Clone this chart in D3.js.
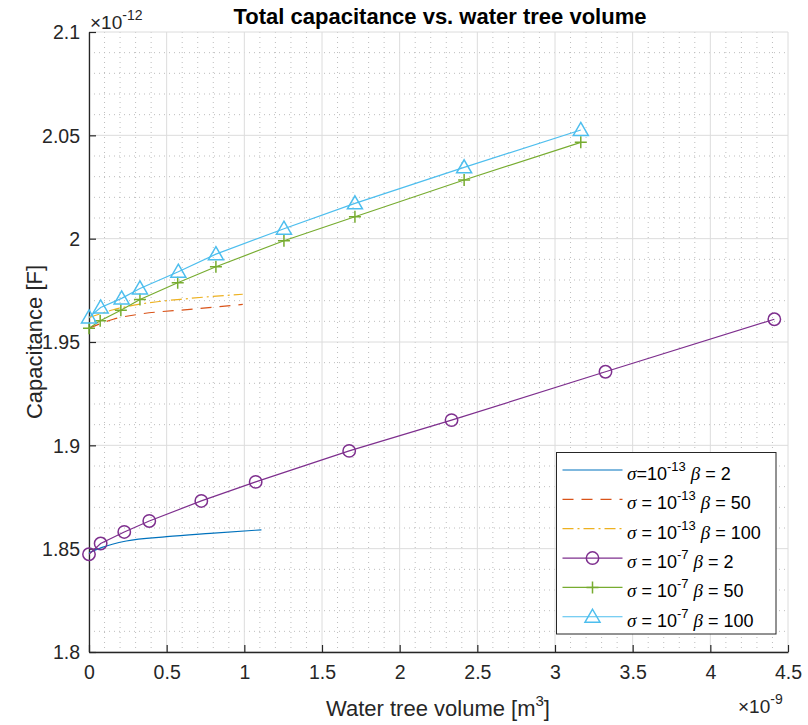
<!DOCTYPE html>
<html><head><meta charset="utf-8">
<script src="https://cdn.jsdelivr.net/npm/d3@7"></script>
<style>
body{margin:0;background:#fff;}
svg{font-family:"Liberation Sans",Arial,Helvetica,sans-serif;}
</style></head>
<body><svg id="chart" width="808" height="725"></svg>
<script>
// ---- data (x in 1e-9 m^3, y in 1e-12 F) ----
const xTicks = [0,0.5,1,1.5,2,2.5,3,3.5,4,4.5];
const yTicks = [1.8,1.85,1.9,1.95,2,2.05,2.1];
const xTickLabels = ["0","0.5","1","1.5","2","2.5","3","3.5","4","4.5"];
const yTickLabels = ["1.8","1.85","1.9","1.95","2","2.05","2.1"];

const s1x = [0,0.08,0.24,0.5,0.78,1.11];
const s1y = [1.848,1.8505,1.8537,1.8558,1.8574,1.8591];
const s2x = [0,0.156,0.328,0.65,0.99];
const s2y = [1.9566,1.961,1.9635,1.9658,1.9682];
const s3x = [0,0.156,0.328,0.65,0.99];
const s3y = [1.9618,1.9656,1.9683,1.9711,1.9731];
const s4x = [0,0.075,0.227,0.388,0.723,1.073,1.675,2.334,3.325,4.412];
const s4y = [1.8473,1.8525,1.8581,1.8634,1.8731,1.8823,1.8973,1.9122,1.9356,1.9610];
const s5x = [0,0.072,0.205,0.328,0.571,0.817,1.255,1.712,2.415,3.166];
const s5y = [1.9566,1.9603,1.9654,1.9706,1.9787,1.9864,1.9990,2.0106,2.0284,2.0466];
const s6x = [0,0.075,0.21,0.328,0.575,0.817,1.255,1.712,2.415,3.166];
const s6y = [1.9619,1.9667,1.9711,1.9759,1.9840,1.9925,2.0048,2.0171,2.0345,2.0526];

const seriesNames = [
  {pre:"=", exp:"-13", beta:"2"},
  {pre:" = ", exp:"-13", beta:"50"},
  {pre:" = ", exp:"-13", beta:"100"},
  {pre:" = ", exp:"-7", beta:"2"},
  {pre:" = ", exp:"-7", beta:"50"},
  {pre:" = ", exp:"-7", beta:"100"}
];
const colors = ["#0072BD","#D95319","#EDB120","#7E2F8E","#77AC30","#4DBEEE"];

const series = [
  {x:s1x,y:s1y,dash:null,marker:null},
  {x:s2x,y:s2y,dash:"11,8",marker:null},
  {x:s3x,y:s3y,dash:"11,4,2,4",marker:null},
  {x:s4x,y:s4y,dash:null,marker:"circle"},
  {x:s5x,y:s5y,dash:null,marker:"plus"},
  {x:s6x,y:s6y,dash:null,marker:"triangle"}
];

const svg = d3.select("#chart");
const L=89, R=788, T=32, B=652;
const x = d3.scaleLinear().domain([0,4.5]).range([L,R]);
const y = d3.scaleLinear().domain([1.8,2.1]).range([B,T]);
const axisColor = "#262626";

// minor grid
const g = svg.append("g");
const xMinor = d3.range(0,4.5001,0.1).filter(v=>Math.abs(v*2-Math.round(v*2))>1e-6);
const yMinor = d3.range(1.8,2.1001,0.01).filter(v=>Math.abs(v*20-Math.round(v*20))>1e-6);
g.selectAll(".xm").data(xMinor).enter().append("line")
  .attr("x1",d=>x(d)).attr("x2",d=>x(d)).attr("y1",T).attr("y2",B)
  .attr("stroke","#bdbdbd").attr("stroke-width",1).attr("stroke-dasharray","1,4");
g.selectAll(".ym").data(yMinor).enter().append("line")
  .attr("x1",L).attr("x2",R).attr("y1",d=>y(d)).attr("y2",d=>y(d))
  .attr("stroke","#bdbdbd").attr("stroke-width",1).attr("stroke-dasharray","1,4");
// major grid
g.selectAll(".xg").data(xTicks).enter().append("line")
  .attr("x1",d=>x(d)).attr("x2",d=>x(d)).attr("y1",T).attr("y2",B)
  .attr("stroke","#dcdcdc").attr("stroke-width",1);
g.selectAll(".yg").data(yTicks).enter().append("line")
  .attr("x1",L).attr("x2",R).attr("y1",d=>y(d)).attr("y2",d=>y(d))
  .attr("stroke","#dcdcdc").attr("stroke-width",1);

// axes
const xAxis = d3.axisBottom(x).tickValues(xTicks).tickFormat((d,i)=>xTickLabels[i]).tickSizeInner(-7).tickSizeOuter(0).tickPadding(13);
const yAxis = d3.axisLeft(y).tickValues(yTicks).tickFormat((d,i)=>yTickLabels[i]).tickSizeInner(-7).tickSizeOuter(0).tickPadding(9);
const gx = svg.append("g").attr("transform",`translate(0,${B})`).call(xAxis);
const gy = svg.append("g").attr("transform",`translate(${L},0)`).call(yAxis);
[gx,gy].forEach(a=>{
  a.select(".domain").attr("stroke",axisColor).attr("stroke-width",1.3);
  a.selectAll(".tick line").attr("stroke",axisColor).attr("stroke-width",1.2);
  a.selectAll(".tick text").attr("fill",axisColor).attr("font-size",19.5).attr("font-family","Liberation Sans, Arial, sans-serif");
});
gy.selectAll(".tick text").attr("dy","0.35em");

// series
const plot = svg.append("g");
function markerPath(type){
  if(type==="circle") return d3.symbol().type(d3.symbolCircle).size(Math.PI*6.2*6.2)();
  if(type==="plus") return "M-6,0H6M0,-6V6";
  if(type==="triangle") return "M0,-7.5L7.5,5.5L-7.5,5.5Z";
  return "";
}
series.forEach((s,i)=>{
  const pts = s.x.map((v,k)=>[v,s.y[k]]);
  const line = d3.line().x(d=>x(d[0])).y(d=>y(d[1]));
  if(!s.marker) line.curve(d3.curveMonotoneX);
  plot.append("path").attr("d",line(pts)).attr("fill","none")
    .attr("stroke",colors[i]).attr("stroke-width",1.2)
    .attr("stroke-dasharray",s.dash);
  if(s.marker){
    plot.selectAll(".m"+i).data(pts).enter().append("path")
      .attr("transform",d=>`translate(${x(d[0])},${y(d[1])})`)
      .attr("d",markerPath(s.marker)).attr("fill","none")
      .attr("stroke",colors[i]).attr("stroke-width",1.5);
  }
});

// title
svg.append("text").attr("x",440).attr("y",24).attr("text-anchor","middle")
  .attr("font-size",22).attr("font-weight","bold").attr("fill","#000")
  .text("Total capacitance vs. water tree volume");

// axis labels
const xl = svg.append("text").attr("x",438).attr("y",716).attr("text-anchor","middle")
  .attr("font-size",22).attr("fill",axisColor);
xl.append("tspan").text("Water tree volume [m");
xl.append("tspan").attr("font-size",15).attr("dy",-10).text("3");
xl.append("tspan").attr("dy",10).text("]");
svg.append("text").attr("transform","translate(42,342) rotate(-90)").attr("text-anchor","middle")
  .attr("font-size",22).attr("fill",axisColor).text("Capacitance [F]");

// exponent labels
function expLabel(xx,yy,e){
  const t = svg.append("text").attr("x",xx).attr("y",yy).attr("font-size",19).attr("fill",axisColor);
  t.append("tspan").text("\u00D710");
  t.append("tspan").attr("font-size",14).attr("dy",-9).text(e);
}
expLabel(90,29,"-12");
expLabel(738,713,"-9");

// legend
const lg = svg.append("g");
lg.append("rect").attr("x",556.5).attr("y",452.5).attr("width",219.5).attr("height",181.5)
  .attr("fill","#fff").attr("stroke",axisColor).attr("stroke-width",1);
const rowY = d3.range(6).map(i=>470+i*29.35);
series.forEach((s,i)=>{
  const yy = rowY[i];
  lg.append("line").attr("x1",562.5).attr("x2",622.5).attr("y1",yy).attr("y2",yy)
    .attr("stroke",colors[i]).attr("stroke-width",1.2).attr("stroke-dasharray",s.dash);
  if(s.marker){
    lg.append("path").attr("transform",`translate(592.5,${yy})`).attr("d",markerPath(s.marker))
      .attr("fill","none").attr("stroke",colors[i]).attr("stroke-width",1.5);
  }
  const n = seriesNames[i];
  const t = lg.append("text").attr("x",627).attr("y",yy+10).attr("font-size",18).attr("fill","#000");
  t.append("tspan").attr("font-style","italic").attr("font-family","Liberation Serif, Times New Roman, serif").attr("font-size",19).text("\u03C3");
  t.append("tspan").text(n.pre+"10");
  t.append("tspan").attr("font-size",13).attr("dy",-9).text(n.exp);
  t.append("tspan").attr("dy",9).text(" ");
  t.append("tspan").attr("font-style","italic").attr("font-family","Liberation Serif, Times New Roman, serif").attr("font-size",19).text(" \u03B2");
  t.append("tspan").text(" = "+n.beta);
});
</script></body></html>
